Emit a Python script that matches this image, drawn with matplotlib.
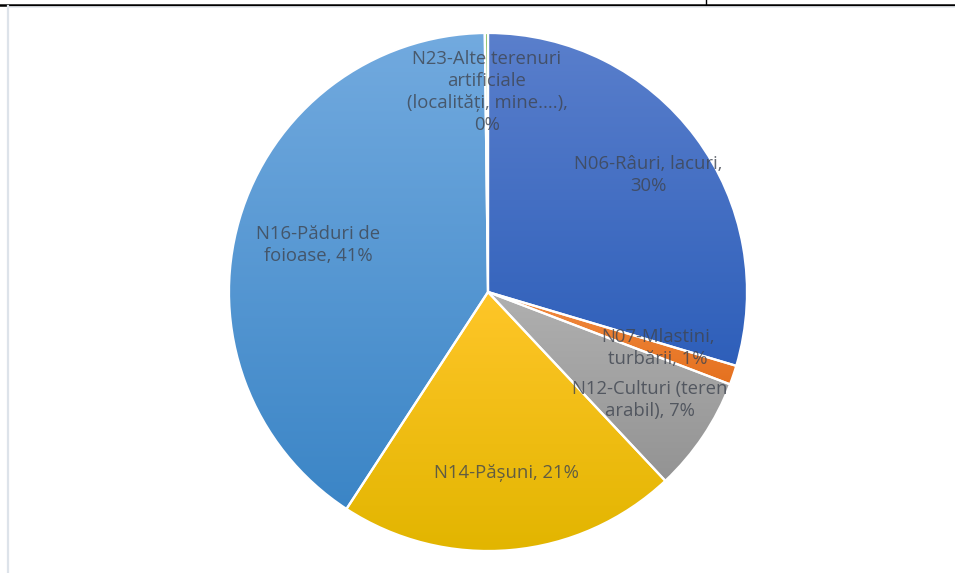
import numpy as np
import matplotlib
matplotlib.use("Agg")
import matplotlib.pyplot as plt
from matplotlib.colors import LinearSegmentedColormap
from matplotlib.lines import Line2D

# land cover shares (%), clockwise from 12 o'clock
categorii = ["N06-Râuri, lacuri,", "N07-Mlastini,\nturbării,", "N12-Culturi (teren\narabil),",
             "N14-Pășuni,", "N16-Păduri de\nfoioase,", "N23-Alte terenuri\nartificiale\n(localități, mine....),"]
procente = [29.6, 1.2, 7.2, 21.2, 40.6, 0.2]

# gradient fill, top colour -> bottom colour
culori = [("#5a7fcc", "#2e5fba"),
          ("#f08a40", "#e5711f"),
          ("#b0b0b0", "#939393"),
          ("#ffc629", "#e2b500"),
          ("#72aadf", "#3b85c6"),
          ("#7dbb55", "#60a03b")]

# label centres in pie units
poz_etichete = [(0.618, 0.452), (0.656, -0.216), (0.625, -0.417),
                (0.073, -0.699), (-0.656, 0.181), (-0.004, 0.772)]

fig = plt.figure(figsize=(9.55, 5.73), dpi=100)
ax = fig.add_axes([0, 0, 1, 1])

wedges, _ = ax.pie(procente, colors=[c[1] for c in culori], startangle=90, counterclock=False,
                   wedgeprops=dict(edgecolor="white", linewidth=1.6))

grad = np.linspace(0, 1, 256).reshape(-1, 1)
for w, (sus, jos) in zip(wedges, culori):
    bb = w.get_path().get_extents()
    cmap = LinearSegmentedColormap.from_list("g", [jos, sus])
    im = ax.imshow(grad, extent=[bb.x0, bb.x1, bb.y0, bb.y1], origin="lower",
                   cmap=cmap, aspect="auto", zorder=2, interpolation="bilinear")
    im.set_clip_path(w)
    w.set_facecolor("none")
    w.set_zorder(3)

for cat, val, (x, y) in zip(categorii, procente, poz_etichete):
    sep = "\n" if cat.startswith(("N06", "N23")) else " "
    ax.text(x, y, f"{cat}{sep}{val:.0f}%", ha="center", va="center", fontsize=13.3,
            family="Open Sans", color="#3f4550", alpha=0.8, linespacing=1.28, zorder=4)

ax.set_aspect("auto")
ax.set_xlim(-488 / 259, (955 - 488) / 259)
ax.set_ylim(-(573 - 292) / 259, 292 / 259)
ax.axis("off")

# sheet border lines
fig.add_artist(Line2D([0, 1], [1 - 5 / 573, 1 - 5 / 573], color="black", lw=1.8))
fig.add_artist(Line2D([706 / 955, 706 / 955], [1 - 5 / 573, 1], color="black", lw=1))
fig.add_artist(Line2D([8 / 955, 8 / 955], [0, 1 - 6 / 573], color="#dde3ea", lw=1.6))
fig.add_artist(Line2D([8 / 955, 1], [1 - 7 / 573, 1 - 7 / 573], color="#e6eaef", lw=1.2))

fig.savefig("out.png", dpi=100)
